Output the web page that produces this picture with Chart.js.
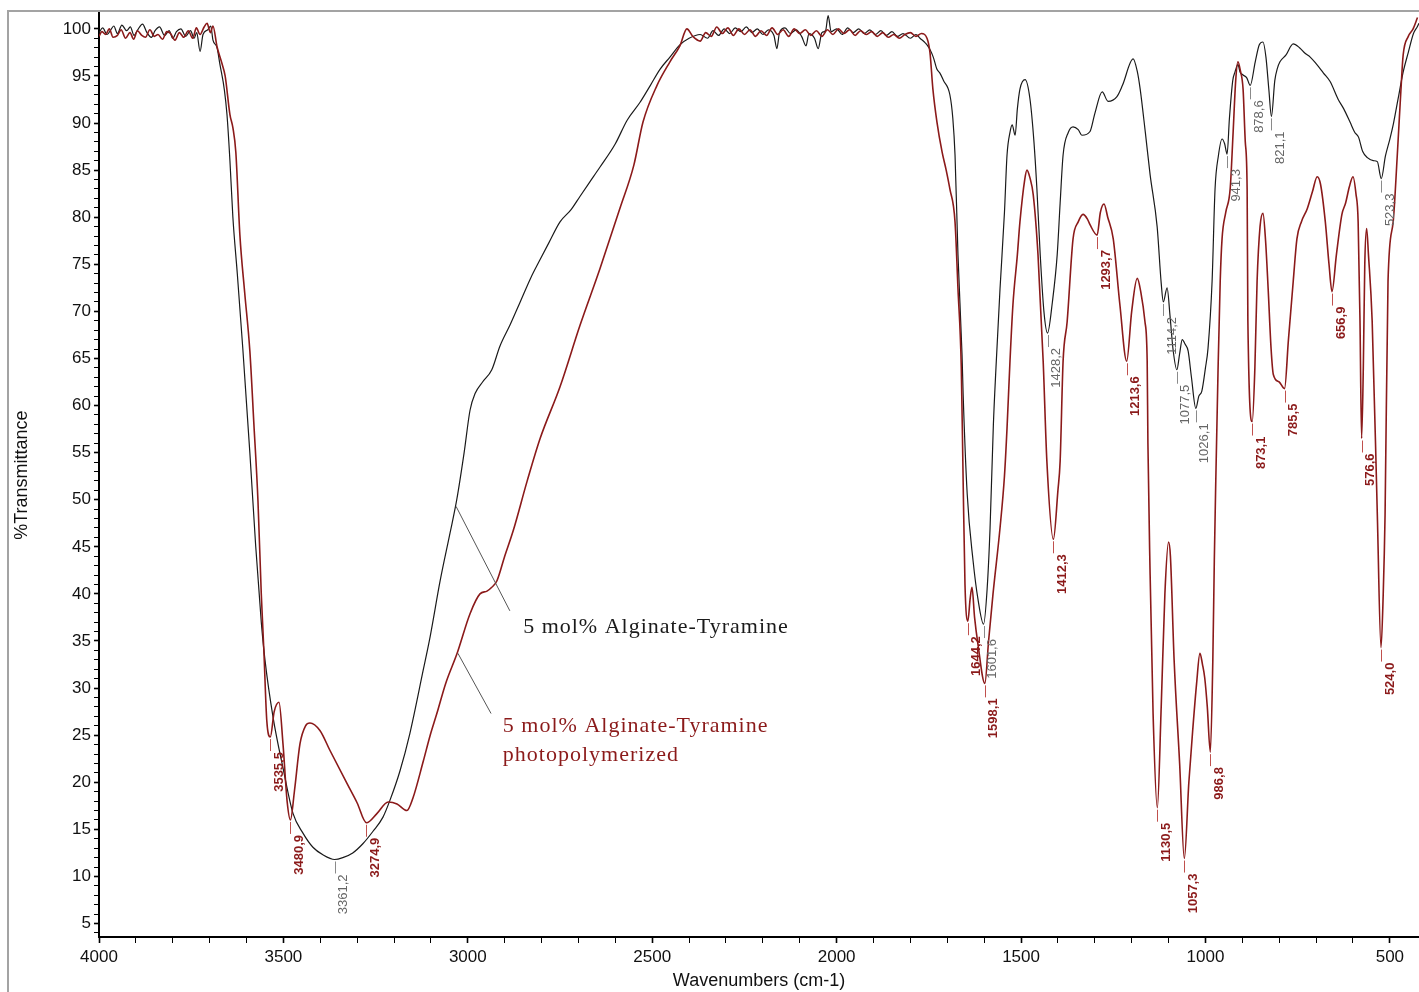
<!DOCTYPE html>
<html><head><meta charset="utf-8">
<script src="https://cdn.jsdelivr.net/npm/chart.js@4.4.1/dist/chart.umd.min.js"></script>
<style>html,body{margin:0;padding:0;background:#fff;overflow:hidden}</style>
</head><body><canvas id="c" width="1419" height="992"></canvas>
<script>
// 5 mol% Alginate-Tyramine (black)
const alginateWn = [4000,3990,3978,3968,3960,3950,3938,3925,3915,3905,3895,3882,3870,3858,3848,3836,3822,3810,3800,3790,3778,3765,3752,3742,3735,3726,3718,3705,3697,3691,3680,3672,3660,3653,3645,3637,3625,3610,3591,3575,3560,3550,3528,3501,3474,3447,3420,3393,3361.2,3339,3312,3284,3257,3230,3211,3184,3157,3121,3102,3075,3048,3030,3010,2994,2980,2960,2935,2913,2885,2858,2830,2804,2780,2750,2720,2696,2670,2642,2600,2568,2533,2505,2479,2452,2425,2400,2370,2350,2335,2320,2305,2290,2275,2260,2245,2230,2215,2200,2185,2170,2162,2155,2140,2125,2110,2095,2083,2075,2060,2050,2040,2030,2023,2015,2000,1985,1970,1955,1940,1925,1910,1895,1880,1865,1850,1835,1820,1800,1785,1774,1762,1755,1747,1738,1728,1720,1710,1693,1685,1679,1671,1660,1657,1646,1630,1617,1601.6,1592,1584,1575,1568,1557,1545,1538,1530,1524,1516,1510,1503,1489,1476,1465,1457,1448,1438,1428.2,1415,1402,1394,1386,1372,1359,1345,1335,1313,1300,1280,1264,1240,1225,1196,1185,1177,1163,1150,1131,1120,1114.2,1104,1096,1088,1077.5,1070,1063,1055,1047,1038,1026.1,1018,1010,1000,993,982,974,965,955,948,941.3,935,926,920,912,906,898,888,878.6,865,854,844,836,828,821.1,812,805,798,782,762,745,730,716,700,680,662,640,625,608,595,585,574,560,545,534,523.3,512,500,490,478,464,450,436,426,421];
const alginateT = [99.6,100.1,99.4,99.9,100.3,99.5,100.4,99.8,100.2,99.3,99.9,100.5,99.6,99.1,99.8,100.2,99.3,99.8,99.0,99.7,100.0,99.2,99.8,99.0,99.6,97.6,99.4,99.9,100.3,98.8,98.0,96.2,93.5,90.9,86.0,80.0,74.0,66.0,55.0,45.0,37.0,33.0,26.9,21.5,16.7,14.6,13.1,12.3,11.8,12.0,12.5,13.5,14.8,16.3,18.1,21.2,25.2,31.9,35.5,41.4,46.5,50.0,55.0,59.5,61.3,62.5,63.8,66.3,68.6,71.0,73.5,75.5,77.3,79.5,80.8,82.2,83.7,85.3,87.8,90.3,92.2,94.0,95.7,97.0,98.3,99.0,99.4,99.0,99.8,99.3,100.0,99.5,100.1,99.7,100.2,99.6,100.0,99.4,99.9,99.3,97.9,99.6,100.1,99.5,99.9,99.2,98.2,99.5,99.0,97.9,99.6,99.8,101.4,99.7,100.0,99.4,100.1,99.6,100.0,99.5,99.9,99.4,99.8,99.3,99.7,99.2,99.5,99.0,99.4,99.0,98.6,98.3,97.8,97.0,95.7,95.3,94.5,93.0,90.5,86.6,76.0,65.4,61.2,50.6,43.5,39.5,36.8,40.5,47.0,58.0,64.0,72.4,80.5,86.6,89.0,89.8,88.7,91.5,93.6,94.6,92.6,88.0,83.0,76.0,70.0,67.7,71.0,76.0,81.5,86.6,89.0,89.6,89.3,88.7,89.1,91.0,93.3,92.3,92.8,94.0,96.8,95.5,93.6,89.0,84.5,79.0,73.0,71.0,72.5,69.5,66.0,63.8,65.5,67.0,66.5,65.8,63.0,59.7,61.0,61.5,64.0,66.1,73.2,83.0,86.5,88.3,87.8,86.7,90.5,94.5,95.4,96.2,95.4,95.1,94.8,94.0,96.5,98.3,98.6,97.0,93.5,90.7,94.5,95.8,96.5,97.2,98.4,98.0,97.4,97.0,96.3,95.3,94.4,92.5,91.5,90.1,89.0,88.5,87.0,86.3,86.0,85.9,84.1,86.5,88.3,90.0,92.5,95.4,97.5,99.5,100.2,100.6];

// 5 mol% Alginate-Tyramine photopolymerized (dark red)
const photoWn = [4000,3992,3982,3972,3962,3950,3940,3928,3916,3906,3896,3884,3874,3862,3850,3840,3828,3816,3806,3794,3782,3770,3758,3746,3736,3726,3715,3707,3698,3691,3680,3668,3658,3645,3637,3629,3618,3605,3591,3580,3569,3560,3553,3545,3535.5,3525,3512,3501,3490,3480.9,3470,3455,3440,3428,3401,3374,3328,3300,3274.9,3246,3216,3192,3165,3149,3121,3102,3084,3060,3029,2994,2967,2948,2935,2921,2900,2877,2839,2804,2750,2696,2642,2587,2550,2525,2487,2452,2425,2406,2390,2370,2355,2340,2325,2310,2295,2280,2265,2250,2235,2220,2205,2190,2175,2160,2145,2130,2115,2100,2085,2070,2055,2040,2025,2010,1995,1980,1965,1950,1935,1920,1905,1890,1875,1860,1845,1830,1815,1800,1785,1770,1755,1747,1739,1728,1714,1703,1693,1679,1671,1662,1657,1652,1644.2,1638,1633,1626,1617,1598.1,1588,1576,1557,1545,1538,1530,1522,1510,1503,1490,1484,1476,1467,1454,1440,1430,1412.3,1400,1394,1386,1375,1359,1345,1332,1320,1313,1293.7,1285,1275,1265,1250,1232,1213.6,1200,1185,1175,1164,1158,1156,1150,1142,1130.5,1120,1110,1100,1095,1085,1070,1057.3,1045,1034,1024,1015,1008,1002,995,986.8,980,976,972,966,960,955,945,933,925,918,912,905,898,892,887,885,873.1,866,860,852,844,837,830,822,816,800,785.5,775,762,752,740,724,710,697,688,675,665,656.9,645,630,620,610,600,592,586,581,576.6,572,568,563,558,548,534,524.0,518,513,505,491,480,470,464,450,437,425];
const photoT = [99.2,99.7,99.4,100.0,99.1,99.3,99.9,99.0,99.6,98.9,99.8,99.3,99.1,99.9,99.2,99.4,98.9,99.7,99.5,98.8,99.6,99.1,99.8,99.0,100.1,99.4,100.2,100.6,99.6,100.3,98.1,96.5,95.0,90.9,89.5,86.9,78.1,72.0,65.8,58.0,49.9,40.0,34.0,26.5,24.8,27.5,28.5,24.0,18.0,16.0,19.1,24.1,26.0,26.3,25.5,23.4,19.9,17.8,15.7,16.7,17.9,17.7,17.0,18.3,22.2,25.0,27.3,30.5,33.7,37.9,40.0,40.3,40.7,41.4,44.0,46.7,52.0,56.5,62.0,68.5,74.5,81.0,85.5,90.1,94.0,96.5,98.2,100.0,99.2,98.7,99.6,99.2,100.2,99.5,100.1,99.3,100.0,99.4,99.9,99.2,99.8,99.3,100.1,99.4,99.9,99.2,100.0,99.5,99.9,99.3,99.8,99.2,99.9,99.4,100.0,99.5,99.9,99.3,99.8,99.4,99.7,99.2,99.6,99.1,99.4,99.0,99.4,99.6,99.2,99.5,99.0,97.5,93.6,90.1,86.9,85.0,83.0,79.5,72.4,64.0,52.0,41.0,37.1,39.5,40.7,37.5,34.7,30.5,35.0,40.0,47.0,52.5,57.6,64.7,70.7,76.0,79.5,84.0,85.0,84.2,82.4,76.0,64.7,54.1,45.8,51.0,54.1,64.7,68.9,77.7,79.5,80.3,79.8,79.2,78.1,80.5,81.4,80.0,77.7,70.7,64.7,70.0,73.5,72.0,68.9,64.7,56.0,42.0,27.3,17.3,28.0,40.0,45.5,44.0,33.0,22.0,11.9,20.0,25.8,30.5,33.7,32.5,31.1,28.0,23.2,33.0,43.5,52.0,63.5,73.2,77.7,80.5,83.0,89.0,94.5,96.5,95.5,93.6,88.0,83.0,69.0,58.3,64.0,73.2,79.0,80.4,77.5,72.4,66.0,63.3,62.5,61.8,67.0,73.2,77.7,79.5,80.9,82.7,84.3,83.5,79.5,75.0,72.1,76.0,80.3,81.5,83.2,84.3,82.5,79.5,69.0,56.5,64.0,75.0,78.8,76.0,69.0,48.4,34.3,40.0,48.4,73.2,79.5,86.5,93.5,97.2,99.2,100.0,101.2];

// labelled peaks (wavenumbers, cm-1)
const alginatePeaks = [3361.2,1601.6,1428.2,1114.2,1077.5,1026.1,941.3,878.6,821.1,523.3];
const photoPeaks = [3535.5,3480.9,3274.9,1644.2,1598.1,1412.3,1293.7,1213.6,1130.5,1057.3,986.8,873.1,785.5,656.9,576.6,524.0];

// axis ticks
const xMajor = [4000,3500,3000,2500,2000,1500,1000,500];
const xTicks = []; for (let v = 4000; v >= 500; v -= 100) xTicks.push(v);
const yTicks = []; for (let v = 4; v <= 100; v += 1) yTicks.push(v);

const seriesNames = ['5 mol% Alginate-Tyramine', '5 mol% Alginate-Tyramine', 'photopolymerized'];

function interp(wns, ts, w) {
  for (let i = 0; i < wns.length - 1; i++) {
    const a = wns[i], b = wns[i + 1];
    if (w <= a && w >= b) { const f = (a - w) / (a - b || 1); return ts[i] + f * (ts[i + 1] - ts[i]); }
  }
  return ts[ts.length - 1];
}

const RED = '#8b1a1a', BLACK = '#1a1a1a';

const decor = {
  id: 'decor',
  beforeDraw(chart) {
    const c = chart.ctx;
    c.save();
    c.strokeStyle = '#a3a3a3'; c.lineWidth = 2;
    c.beginPath(); c.moveTo(8, chart.height); c.lineTo(8, 11); c.lineTo(chart.width, 11); c.stroke();
    c.restore();
  },
  afterDatasetsDraw(chart) {
    const c = chart.ctx, x = chart.scales.x, y = chart.scales.y;
    c.save();
    const drawPeaks = (peaks, wns, ts, color, lineColor, bold) => {
      peaks.forEach(p => {
        const px = x.getPixelForValue(p), py = y.getPixelForValue(interp(wns, ts, p));
        c.strokeStyle = lineColor; c.lineWidth = 1;
        c.beginPath(); c.moveTo(Math.round(px) + 0.5, py + 2); c.lineTo(Math.round(px) + 0.5, py + 14); c.stroke();
        c.save();
        c.translate(px + 9, py + 15);
        c.rotate(-Math.PI / 2);
        c.font = (bold ? 'bold ' : '') + '13px "Liberation Sans", Arial, sans-serif';
        c.fillStyle = color; c.textAlign = 'right'; c.textBaseline = 'middle';
        c.fillText(p.toFixed(1).replace('.', ','), 0, 0);
        c.restore();
      });
    };
    drawPeaks(alginatePeaks, alginateWn, alginateT, '#666666', '#8a8a8a', false);
    drawPeaks(photoPeaks, photoWn, photoT, RED, '#c0504d', true);

    // series labels with leader lines
    c.strokeStyle = '#555'; c.lineWidth = 1;
    c.beginPath();
    c.moveTo(x.getPixelForValue(3032), y.getPixelForValue(49.3));
    c.lineTo(x.getPixelForValue(2886), y.getPixelForValue(38.2));
    c.moveTo(x.getPixelForValue(3027), y.getPixelForValue(33.7));
    c.lineTo(x.getPixelForValue(2937), y.getPixelForValue(27.3));
    c.stroke();
    c.font = '22px "Liberation Serif", "Times New Roman", serif';
    c.letterSpacing = '1px';
    c.textAlign = 'left'; c.textBaseline = 'alphabetic';
    c.fillStyle = BLACK;
    c.fillText(seriesNames[0], x.getPixelForValue(2850), y.getPixelForValue(35.8));
    c.fillStyle = RED;
    c.fillText(seriesNames[1], x.getPixelForValue(2905), y.getPixelForValue(25.3));
    c.fillText(seriesNames[2], x.getPixelForValue(2905), y.getPixelForValue(22.3));
    c.restore();
  }
};

const tickFont = { family: '"Liberation Sans", Arial, sans-serif', size: 17 };

new Chart(document.getElementById('c'), {
  type: 'line',
  data: {
    datasets: [
      { label: seriesNames[1] + ' ' + seriesNames[2], data: photoWn.map((w, i) => ({ x: w, y: photoT[i] })),
        borderColor: RED, borderWidth: 1.6, pointRadius: 0, fill: false, cubicInterpolationMode: 'monotone', order: 0 },
      { label: seriesNames[0], data: alginateWn.map((w, i) => ({ x: w, y: alginateT[i] })),
        borderColor: BLACK, borderWidth: 1.2, pointRadius: 0, fill: false, cubicInterpolationMode: 'monotone', order: 1 }
    ]
  },
  options: {
    responsive: false, animation: false,
    layout: { padding: { top: 11, right: 0, left: 0, bottom: 0 } },
    plugins: { legend: { display: false }, tooltip: { enabled: false } },
    scales: {
      x: {
        type: 'linear', reverse: true, min: 421, max: 4000,
        afterBuildTicks: s => { s.ticks = xTicks.map(v => ({ value: v })); },
        afterFit: s => { s.height = 55; },
        grid: { drawOnChartArea: false, drawTicks: true, tickLength: 6, tickColor: '#000',
                tickWidth: ctx => (ctx.tick && xMajor.includes(ctx.tick.value)) ? 1.6 : 1 },
        border: { display: true, color: '#000', width: 2 },
        ticks: { autoSkip: false, maxRotation: 0, padding: 4, color: '#111', font: tickFont,
                 callback: v => xMajor.includes(v) ? String(v) : '' },
        title: { display: true, text: 'Wavenumbers (cm-1)', color: '#111',
                 font: { family: '"Liberation Sans", Arial, sans-serif', size: 18 }, padding: { top: 0, bottom: 0 } }
      },
      y: {
        min: 3.57, max: 101.66,
        afterBuildTicks: s => { s.ticks = yTicks.map(v => ({ value: v })); },
        afterFit: s => { s.width = 99; },
        grid: { drawOnChartArea: false, drawTicks: true, tickLength: 5, tickColor: '#000',
                tickWidth: ctx => (ctx.tick && ctx.tick.value % 5 === 0) ? 1.6 : 1 },
        border: { display: true, color: '#000', width: 2 },
        ticks: { autoSkip: false, padding: 3, color: '#111', font: tickFont,
                 callback: v => (v % 5 === 0) ? String(v) : '' },
        title: { display: true, text: '%Transmittance', color: '#111',
                 font: { family: '"Liberation Sans", Arial, sans-serif', size: 18 }, padding: { top: 11, bottom: 0 } }
      }
    }
  },
  plugins: [decor]
});
</script>
</body></html>
